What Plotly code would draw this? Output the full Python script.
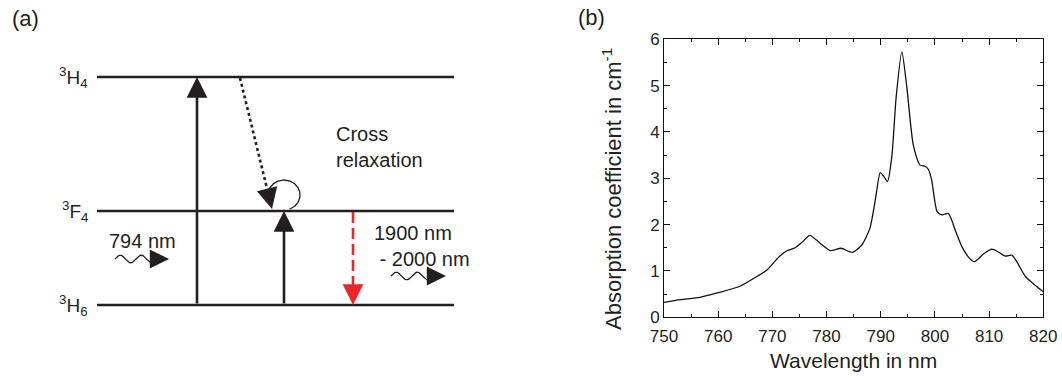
import numpy as np
import plotly.graph_objects as go

# ---------------- data ----------------
wavelength_nm = [750, 753, 756.6, 760, 764, 767, 769, 771.1, 772.6, 774.2, 775.5, 776.9,
                 778.8, 780.7, 782.7, 784.8, 786.5, 788.0, 789.0, 789.9, 790.5, 791.25,
                 792.05, 792.85, 793.9, 794.8, 796.0, 797.2, 798.2, 798.8, 799.4, 800.4,
                 801.3, 802.5, 803.75, 805.0, 806.2, 807.3, 809.0, 810.5, 811.7, 813.0,
                 814.2, 815.1, 816.7, 818.2, 820]
absorption_cm = [0.32, 0.38, 0.43, 0.53, 0.67, 0.87, 1.02, 1.29, 1.43, 1.50, 1.62, 1.77,
                 1.60, 1.44, 1.49, 1.40, 1.56, 1.92, 2.53, 3.12, 3.05, 2.93,
                 3.47, 4.76, 5.73, 4.98, 3.72, 3.29, 3.26, 3.19, 2.96, 2.28,
                 2.21, 2.24, 1.88, 1.52, 1.30, 1.20, 1.37, 1.47, 1.41, 1.32,
                 1.34, 1.20, 0.88, 0.72, 0.55]
x_ticks = [750, 760, 770, 780, 790, 800, 810, 820]
y_ticks = [0, 1, 2, 3, 4, 5, 6]

level_names = ["<sup>3</sup>H<sub>6</sub>", "<sup>3</sup>F<sub>4</sub>", "<sup>3</sup>H<sub>4</sub>"]
level_y = [0.0, 0.412, 1.0]   # relative diagram height of each level
pump_label = "794 nm"
emission_label = "1900 nm<br> - 2000 nm"
cr_label = "Cross<br>relaxation"
x_title = "Wavelength in nm"
y_title = "Absorption coefficient in cm<sup>-1</sup>"

# ---------------- layout helpers ----------------
W, H = 1062, 378
FONT = "Liberation Sans, Arial, Helvetica, sans-serif"
INK = "#231f20"
RED = "#e8262b"
PX_PER_UNIT = 228.0      # vertical scale of the diagram (pixels per level unit)
BASE_PX = 305.0          # pixel row of the ground level


def ey(py):
    """pixel row -> diagram level units"""
    return (BASE_PX - py) / PX_PER_UNIT


fig = go.Figure()

# ---------------- panel (b): spectrum ----------------
fig.add_trace(go.Scatter(
    x=wavelength_nm, y=absorption_cm, mode="lines",
    line=dict(color="#111111", width=1.3, shape="spline", smoothing=0.6),
    xaxis="x", yaxis="y", showlegend=False, hoverinfo="skip"))

# ---------------- panel (a): energy level diagram ----------------
LX0, LX1 = 97, 454
for yv in level_y:
    fig.add_trace(go.Scatter(x=[LX0, LX1], y=[yv, yv], mode="lines",
                             line=dict(color=INK, width=2.6),
                             xaxis="x2", yaxis="y2", showlegend=False, hoverinfo="skip"))

annotations = []
for name, yv in zip(level_names, level_y):
    annotations.append(dict(x=90, y=yv, xref="x2", yref="y2", text=name, showarrow=False,
                            xanchor="right", yanchor="middle",
                            font=dict(family=FONT, size=19, color=INK)))


def arrow(xt, yt, xs, ys, color=INK, width=2.6, size=1.6):
    annotations.append(dict(x=xt, y=yt, ax=xs, ay=ys, xref="x2", yref="y2",
                            axref="x2", ayref="y2", text="", showarrow=True,
                            arrowhead=2, arrowsize=size, arrowwidth=width,
                            arrowcolor=color, standoff=0))


# pump arrows (ground -> 3H4, ground -> 3F4)
arrow(197, level_y[2], 197, level_y[0])
arrow(284, level_y[1], 284, level_y[0])

# dotted cross-relaxation arrow 3H4 -> 3F4
p0 = np.array([240.0, 78.0])
p1 = np.array([272.0, 209.0])
u = (p1 - p0) / np.linalg.norm(p1 - p0)
pb = p1 - 15 * u
fig.add_trace(go.Scatter(x=[p0[0], pb[0]], y=[ey(p0[1]), ey(pb[1])], mode="lines",
                         line=dict(color=INK, width=2.6, dash="dot"),
                         xaxis="x2", yaxis="y2", showlegend=False, hoverinfo="skip"))
ph = p1 - 18 * u
arrow(p1[0], ey(p1[1]), ph[0], ey(ph[1]))

# curl
th = np.radians(np.linspace(190, -70, 80))
fig.add_trace(go.Scatter(x=284 + 16 * np.cos(th), y=ey(195) + (15 / PX_PER_UNIT) * np.sin(th),
                         mode="lines", line=dict(color=INK, width=1.3),
                         xaxis="x2", yaxis="y2", showlegend=False, hoverinfo="skip"))

# red dashed emission arrow 3F4 -> 3H6
fig.add_trace(go.Scatter(x=[353, 353], y=[level_y[1] - 1 / PX_PER_UNIT, ey(290)], mode="lines",
                         line=dict(color=RED, width=2.6, dash="11px,5px"),
                         xaxis="x2", yaxis="y2", showlegend=False, hoverinfo="skip"))
arrow(353, level_y[0], 353, ey(286), color=RED)


# wavy photon arrows
def wavy(x0, x1, xtip, yc):
    xs = np.linspace(x0, x1, 60)
    ys = yc + (3.8 / PX_PER_UNIT) * np.sin(2 * np.pi * (xs - x0) / 21.0)
    fig.add_trace(go.Scatter(x=xs, y=ys, mode="lines", line=dict(color=INK, width=1.3),
                             xaxis="x2", yaxis="y2", showlegend=False, hoverinfo="skip"))
    annotations.append(dict(x=xtip, y=yc, ax=x1 - 3, ay=yc, xref="x2", yref="y2",
                            axref="x2", ayref="y2", text="", showarrow=True,
                            arrowhead=2, arrowsize=3.2, arrowwidth=1.2,
                            arrowcolor=INK, standoff=0))


wavy(115, 152, 169, ey(259))
wavy(391, 429, 446, ey(276))

# texts
annotations.append(dict(x=142, y=ey(241), xref="x2", yref="y2", text=pump_label,
                        showarrow=False, xanchor="center", yanchor="middle",
                        font=dict(family=FONT, size=20, color=INK)))
annotations.append(dict(x=372, y=ey(246), xref="x2", yref="y2", text=emission_label,
                        showarrow=False, xanchor="left", yanchor="middle", align="left",
                        font=dict(family=FONT, size=20, color=INK)))
annotations.append(dict(x=334, y=ey(147), xref="x2", yref="y2", text=cr_label,
                        showarrow=False, xanchor="left", yanchor="middle", align="left",
                        font=dict(family=FONT, size=20, color=INK)))
annotations.append(dict(x=10 / W, y=1 - 19 / H, xref="paper", yref="paper", text="(a)",
                        showarrow=False, xanchor="left", yanchor="middle",
                        font=dict(family=FONT, size=22, color=INK)))
annotations.append(dict(x=576 / W, y=1 - 17 / H, xref="paper", yref="paper", text="(b)",
                        showarrow=False, xanchor="left", yanchor="middle",
                        font=dict(family=FONT, size=22, color=INK)))
# y-axis title of panel (b)
annotations.append(dict(x=612 / W, y=1 - 189 / H, xref="paper", yref="paper", text=y_title,
                        showarrow=False, xanchor="center", yanchor="middle", textangle=-90,
                        font=dict(family=FONT, size=22, color=INK)))

axis_common = dict(showline=True, linecolor="#111111", linewidth=1, mirror="allticks",
                   ticks="inside", ticklen=6, tickwidth=1, tickcolor="#111111",
                   showgrid=False, zeroline=False, automargin=False,
                   tickfont=dict(family=FONT, size=17, color=INK))

fig.update_layout(
    template="none",
    width=W, height=H, margin=dict(l=0, r=0, t=0, b=0, pad=0, autoexpand=False),
    paper_bgcolor="white", plot_bgcolor="white",
    font=dict(family=FONT, color=INK),
    xaxis=dict(domain=[664 / W, 1043.3 / W], range=[750, 820], tickmode="array",
               tickvals=x_ticks, anchor="y", ticklabelstandoff=3,
               minor=dict(dtick=5, ticks="inside", ticklen=3, tickcolor="#111111", showgrid=False),
               title=dict(text=x_title, font=dict(family=FONT, size=21, color=INK),
                          standoff=8),
               **axis_common),
    yaxis=dict(domain=[1 - 317.3 / H, 1 - 39.3 / H], range=[0, 6], tickmode="array",
               tickvals=y_ticks, anchor="x",
               minor=dict(dtick=0.5, ticks="inside", ticklen=3, tickcolor="#111111", showgrid=False),
               **axis_common),
    xaxis2=dict(domain=[0, 480 / W], range=[0, 480], visible=False, anchor="y2",
                automargin=False),
    yaxis2=dict(domain=[0, 1], range=[ey(378), ey(0)], visible=False, anchor="x2",
                automargin=False),
    annotations=annotations,
)

fig.write_html("out.html")
